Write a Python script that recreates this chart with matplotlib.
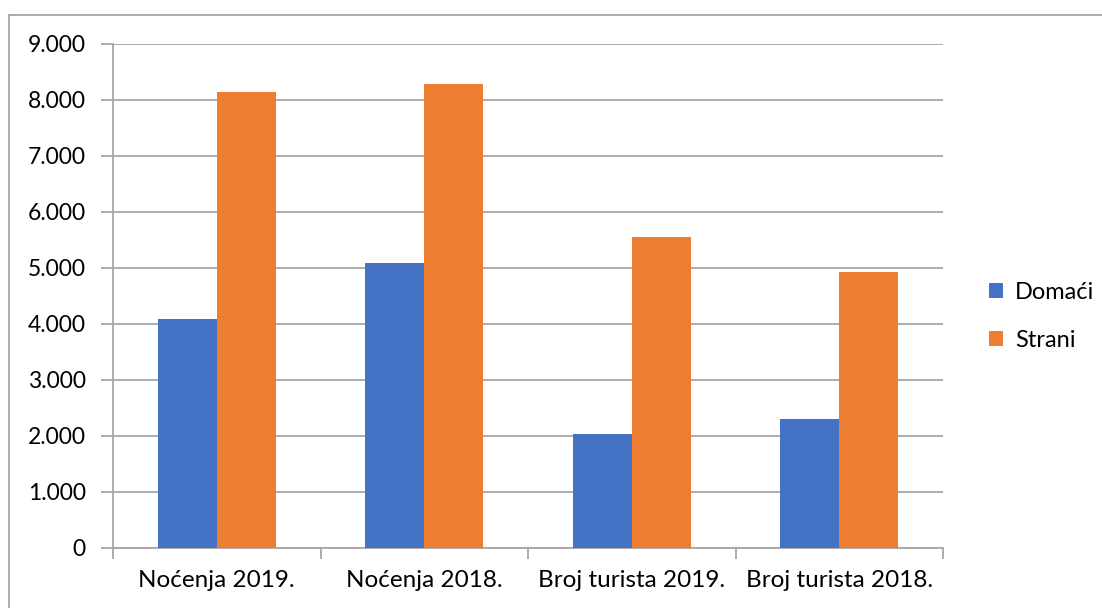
import numpy as np
import matplotlib.pyplot as plt
from matplotlib.lines import Line2D
from matplotlib.ticker import FuncFormatter

categories = ["Noćenja 2019.", "Noćenja 2018.", "Broj turista 2019.", "Broj turista 2018."]
domaci = [4095, 5095, 2040, 2300]
strani = [8145, 8290, 5550, 4925]
series_names = ["Domaći", "Strani"]
y_ticks = np.arange(0, 9001, 1000)

plt.rcParams["font.family"] = ["Lato", "DejaVu Sans"]
fig = plt.figure(figsize=(11.02, 6.08), dpi=100, facecolor="white")

# outer frame (left and top only visible)
fig.add_artist(Line2D([9/1102, 9/1102], [0, 1 - 15/608], color="#a6a6a6", lw=1.3, transform=fig.transFigure))
fig.add_artist(Line2D([9/1102, 1], [1 - 15/608, 1 - 15/608], color="#a6a6a6", lw=1.3, transform=fig.transFigure))

ax = fig.add_axes([113/1102, 60/608, 830/1102, 504/608])
x = np.arange(len(categories))
w = 0.285
ax.bar(x - w/2, domaci, w, color="#4472C4", label=series_names[0], zorder=3)
ax.bar(x + w/2, strani, w, color="#ED7D31", label=series_names[1], zorder=3)

ax.set_xlim(-0.5, len(categories) - 0.5)
ax.set_ylim(0, 9000)
ax.set_yticks(y_ticks)
ax.yaxis.set_major_formatter(FuncFormatter(lambda v, p: "0" if v == 0 else f"{int(v)//1000}.{int(v)%1000:03d}"))
ax.grid(axis="y", color="#a6a6a6", lw=1.3, zorder=0)

# category labels between boundary ticks
ax.set_xticks(np.arange(-0.5, len(categories)), minor=False)
ax.set_xticklabels([])
ax.set_xticks(x, minor=True)
ax.set_xticklabels(categories, minor=True, fontsize=17.5)
ax.tick_params(axis="x", which="minor", length=0, pad=16)
ax.tick_params(axis="x", which="major", length=8, color="#a6a6a6", width=1.3)
ax.tick_params(axis="y", length=9, color="#a6a6a6", width=1.3, labelsize=16.5, pad=10.5)

for s in ["top", "right"]:
    ax.spines[s].set_visible(False)
ax.spines["left"].set_color("#a6a6a6")
ax.spines["bottom"].set_color("#a6a6a6")
ax.spines["left"].set_linewidth(1.3)
ax.spines["bottom"].set_linewidth(1.3)

ax.legend(loc="center left", bbox_to_anchor=(1.03, 0.46), frameon=False, fontsize=17,
          handlelength=0.6, handleheight=0.6, labelspacing=1.15, handletextpad=0.5)

plt.savefig("out.png", dpi=100)
